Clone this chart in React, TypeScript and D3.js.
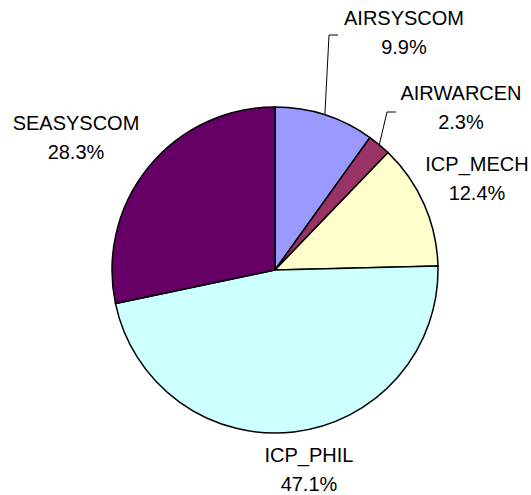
import React from 'react';
import * as d3 from 'd3';

const categories = ['AIRSYSCOM', 'AIRWARCEN', 'ICP_MECH', 'ICP_PHIL', 'SEASYSCOM'];
const shares = [9.9, 2.3, 12.4, 47.1, 28.3];
const colors = ['#9999FF', '#993366', '#FFFFCC', '#CCFFFF', '#660066'];

// label anchor points (centre of text block, first line baseline)
const labelPos: [number, number][] = [
  [404, 25],
  [461, 100],
  [477, 171],
  [309, 462],
  [76, 130],
];

const W = 531;
const H = 495;
const CX = 275;
const CY = 270;
const R = 163;

export default function App() {
  const pie = d3.pie<number>().sort(null).value((d) => d);
  const arcs = pie(shares);
  const arc = d3.arc<d3.PieArcDatum<number>>().innerRadius(0).outerRadius(R);

  // leader lines for the two small slices at the top
  const leader = (i: number, tx: number, ty: number, ex: number) => {
    const a = arcs[i];
    const mid = (a.startAngle + a.endAngle) / 2;
    const px = Math.sin(mid) * R + CX;
    const py = -Math.cos(mid) * R + CY;
    return `M${px},${py}L${tx},${ty}L${ex},${ty}`;
  };

  return (
    <svg width={W} height={H} style={{ position: 'absolute', left: 0, top: 0 }}>
      <rect width={W} height={H} fill="#fff" />
      <g transform={`translate(${CX},${CY})`}>
        {arcs.map((a, i) => (
          <path key={i} d={arc(a) || ''} fill={colors[i]} stroke="#000" strokeWidth={1.5} />
        ))}
      </g>
      <path d={leader(0, 329, 35, 338)} fill="none" stroke="#000" strokeWidth={1} />
      <path d={leader(1, 387, 112, 396)} fill="none" stroke="#000" strokeWidth={1} />
      {categories.map((c, i) => (
        <text
          key={c}
          x={labelPos[i][0]}
          y={labelPos[i][1]}
          textAnchor="middle"
          fontFamily="Liberation Sans, Arial, sans-serif"
          fontSize={20}
          fill="#000"
        >
          <tspan x={labelPos[i][0]}>{c}</tspan>
          <tspan x={labelPos[i][0]} dy={29}>
            {shares[i].toFixed(1)}%
          </tspan>
        </text>
      ))}
    </svg>
  );
}
